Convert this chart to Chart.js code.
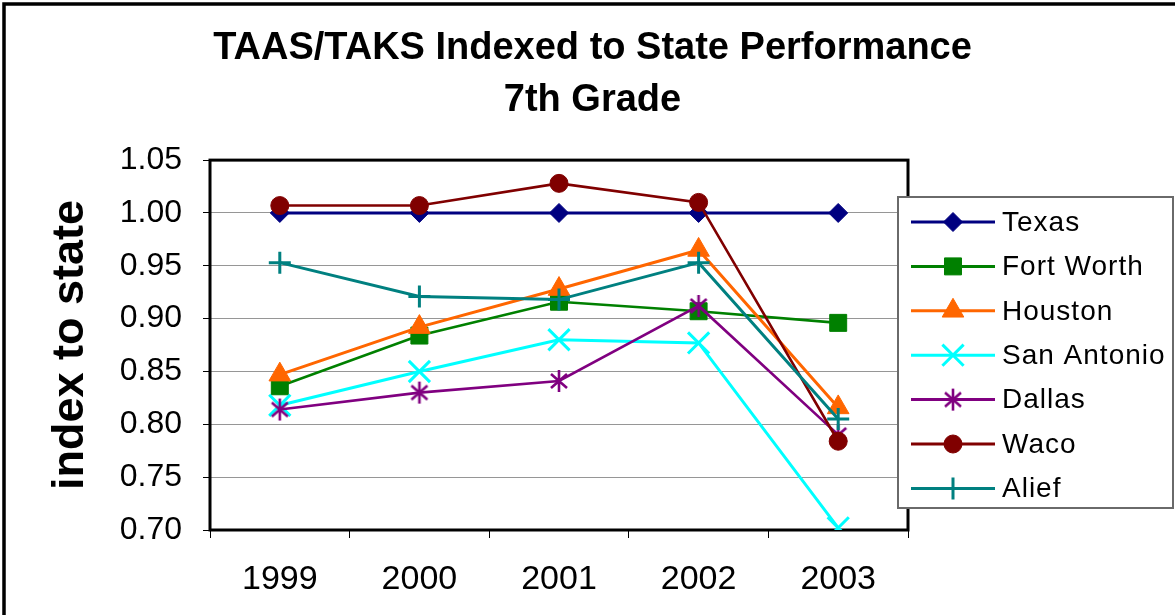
<!DOCTYPE html>
<html>
<head>
<meta charset="utf-8">
<script src="https://cdn.jsdelivr.net/npm/chart.js@4"></script>
<style>
  html, body { margin: 0; padding: 0; background: #fff; }
  canvas { display: block; }
</style>
</head>
<body>
<canvas id="chart" width="1175" height="615"></canvas>
<script>
// years on the x axis
const years = ["1999", "2000", "2001", "2002", "2003"];

// index to state
const texas      = [1.000, 1.000, 1.000, 1.000, 1.000];
const fortWorth  = [0.836, 0.884, 0.916, 0.907, 0.896];
const houston    = [0.847, 0.892, 0.928, 0.965, 0.816];
const sanAntonio = [0.818, 0.850, 0.880, 0.877, 0.702];
const dallas     = [0.814, 0.830, 0.841, 0.912, 0.790];
const waco       = [1.007, 1.007, 1.028, 1.010, 0.784];
const alief      = [0.953, 0.921, 0.918, 0.953, 0.805];

// y axis ticks
const yTicks = [0.70, 0.75, 0.80, 0.85, 0.90, 0.95, 1.00, 1.05];

const FONT = "'Liberation Sans', Arial, sans-serif";

// asterisk marker like the excel one (X plus a vertical bar)
function makeStar(color) {
  const c = document.createElement("canvas");
  c.width = 24; c.height = 24;
  const g = c.getContext("2d");
  g.strokeStyle = color;
  g.lineWidth = 2.6;
  g.beginPath();
  g.moveTo(4, 5); g.lineTo(20, 19);
  g.moveTo(20, 5); g.lineTo(4, 19);
  g.moveTo(12, 1); g.lineTo(12, 23);
  g.stroke();
  return c;
}

const series = [
  { label: "Texas",       data: texas,      color: "#000080", style: "rectRot",  r: 9.5, bw: 1, lw: 3 },
  { label: "Fort Worth",  data: fortWorth,  color: "#008000", style: "rect",     r: 12,  bw: 1, lw: 2.6 },
  { label: "Houston",     data: houston,    color: "#FF6600", style: "triangle", r: 12.5, bw: 1, lw: 3 },
  { label: "San Antonio", data: sanAntonio, color: "#00FFFF", style: "crossRot", r: 15,  bw: 3, lw: 3 },
  { label: "Dallas",      data: dallas,     color: "#800080", style: makeStar("#800080"), r: 12, bw: 0, lw: 2.6 },
  { label: "Waco",        data: waco,       color: "#800000", style: "circle",   r: 9,   bw: 1, lw: 2.6 },
  { label: "Alief",       data: alief,      color: "#008080", style: "cross",    r: 11,  bw: 3, lw: 3 }
];

// outer frame of the chart object
const outerFrame = {
  id: "outerFrame",
  beforeDraw(chart) {
    const ctx = chart.ctx;
    ctx.save();
    ctx.strokeStyle = "#000";
    ctx.lineWidth = 3.5;
    ctx.beginPath();
    ctx.moveTo(4, chart.height + 5);
    ctx.lineTo(4, 4);
    ctx.lineTo(chart.width + 5, 4);
    ctx.stroke();
    ctx.restore();
  }
};

// heavy border round the plot area
const plotFrame = {
  id: "plotFrame",
  beforeDatasetsDraw(chart) {
    const { ctx, chartArea: a } = chart;
    ctx.save();
    ctx.strokeStyle = "#000";
    ctx.lineWidth = 3;
    ctx.strokeRect(a.left, a.top, a.right - a.left, a.bottom - a.top);
    ctx.restore();
  }
};

// boxed legend with line + marker samples
const boxLegend = {
  id: "boxLegend",
  afterDraw(chart) {
    const ctx = chart.ctx;
    const bx = 898, by = 197, bw = 275, bh = 311;
    ctx.save();
    ctx.fillStyle = "#fff";
    ctx.fillRect(bx, by, bw, bh);
    ctx.strokeStyle = "#6a6a6a";
    ctx.lineWidth = 2;
    ctx.strokeRect(bx, by, bw, bh);
    chart.data.datasets.forEach((ds, i) => {
      const y = 222 + i * 44.4;
      ctx.strokeStyle = ds.borderColor;
      ctx.lineWidth = 3;
      ctx.beginPath();
      ctx.moveTo(911, y);
      ctx.lineTo(995, y);
      ctx.stroke();
      ctx.fillStyle = ds.pointBackgroundColor;
      ctx.strokeStyle = ds.pointBorderColor;
      ctx.lineWidth = ds.pointBorderWidth;
      Chart.helpers.drawPoint(ctx, {
        pointStyle: ds.pointStyle,
        radius: ds.pointRadius,
        rotation: 0,
        borderWidth: ds.pointBorderWidth
      }, 953, y);
      ctx.fillStyle = "#000";
      ctx.font = "28px " + FONT;
      ctx.letterSpacing = "1px";
      ctx.textBaseline = "middle";
      ctx.textAlign = "left";
      ctx.fillText(ds.label, 1002, y + 1);
      ctx.letterSpacing = "0px";
    });
    ctx.restore();
  }
};

new Chart(document.getElementById("chart"), {
  type: "line",
  data: {
    labels: years,
    datasets: series.map((s, i) => ({
      label: s.label,
      data: s.data,
      borderColor: s.color,
      backgroundColor: s.color,
      borderWidth: s.lw,
      pointStyle: s.style,
      pointRadius: s.r,
      pointHoverRadius: s.r,
      pointBackgroundColor: s.color,
      pointBorderColor: s.color,
      pointBorderWidth: s.bw,
      tension: 0,
      fill: false,
      order: series.length - i
    }))
  },
  options: {
    responsive: false,
    animation: false,
    layout: { padding: { left: 10, right: 0, top: 0, bottom: 0 } },
    plugins: {
      legend: { display: false },
      tooltip: { enabled: false },
      title: {
        display: true,
        text: ["TAAS/TAKS Indexed to State Performance", "7th Grade"],
        color: "#000",
        font: { family: FONT, size: 38, weight: "bold", lineHeight: 1.37 },
        padding: { top: 22, bottom: 34 }
      }
    },
    scales: {
      x: {
        offset: true,
        grid: {
          offset: true,
          drawOnChartArea: false,
          drawTicks: true,
          tickLength: 8,
          tickColor: "#000",
          tickWidth: 1
        },
        border: { display: false },
        ticks: {
          color: "#000",
          padding: 21,
          maxRotation: 0,
          font: { family: FONT, size: 34 }
        },
        afterFit(scale) { scale.height = 85; }
      },
      y: {
        min: 0.70,
        max: 1.05,
        afterBuildTicks(scale) {
          scale.ticks = yTicks.map(v => ({ value: v }));
        },
        grid: {
          color: "#969696",
          lineWidth: 1,
          drawTicks: true,
          tickLength: 7,
          tickColor: "#000",
          tickWidth: 1
        },
        border: { display: false },
        ticks: {
          color: "#000",
          padding: 21,
          font: { family: FONT, size: 32 },
          callback: v => Number(v).toFixed(2)
        },
        title: {
          display: true,
          text: "index to state",
          color: "#000",
          font: { family: FONT, size: 45, weight: "bold" },
          padding: { top: 34 }
        },
        afterFit(scale) { scale.width = 200; }
      },
      // empty right-hand strip that holds the legend space
      side: {
        position: "right",
        min: 0.70,
        max: 1.05,
        grid: { display: false },
        border: { display: false },
        ticks: { display: false },
        afterFit(scale) { scale.width = 267; }
      }
    }
  },
  plugins: [outerFrame, plotFrame, boxLegend]
});
</script>
</body>
</html>
